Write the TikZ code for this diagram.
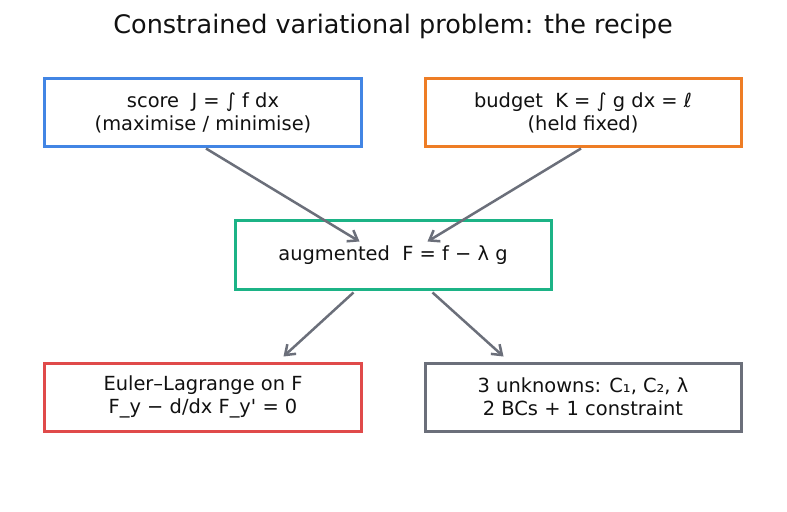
\documentclass[tikz,border=0pt]{standalone}
\usepackage{fontspec}
\setmainfont{DejaVu Sans}
\newfontfamily\dvs{DejaVu Sans}
\usetikzlibrary{arrows.meta,calc}
\definecolor{cblue}{HTML}{4285E4}
\definecolor{corange}{HTML}{EE7D25}
\definecolor{cgreen}{HTML}{1CB386}
\definecolor{cred}{HTML}{E04A4A}
\definecolor{cgray}{HTML}{6B6F7A}
\definecolor{ctext}{HTML}{111111}
\begin{document}
\begin{tikzpicture}[x=1bp,y=-1bp,
  box/.style={draw,line width=3bp,minimum width=316bp,minimum height=68bp,
    align=center,inner sep=0pt,text=ctext,font=\dvs\fontsize{19.5}{23.5}\selectfont},
  arr/.style={draw=cgray,line width=2.5bp,-{Straight Barb[length=9bp,width=13bp,line width=2.5bp]}}]
\useasboundingbox[fill=white] (0,0) rectangle (787,512);
\node[text=ctext,font=\dvs\fontsize{25.6}{30}\selectfont] (title) at (393,26) {Constrained variational problem: the recipe};
\node[box,draw=cblue] (tl) at (203,113) {score\ \ J = ∫ f dx\\(maximise / minimise)};
\node[box,draw=corange] (tr) at (583,113) {budget\ \ K = ∫ g dx = ℓ\\(held fixed)};
\node[box,draw=cgreen] (mid) at (393,255) {augmented\ \ F = f − λ g};
\node[box,draw=cred] (bl) at (203,397) {Euler–Lagrange on F\\F\_y − d/dx F\_y' = 0};
\node[box,draw=cgray] (br) at (583,397) {3 unknowns: C₁, C₂, λ\\2 BCs + 1 constraint};
\draw[arr] ($(tl.south)+(3,0)$) -- ($(mid.north west)+(126,22)$);
\draw[arr] ($(tr.south)+(-2,0)$) -- ($(mid.north west)+(194,22)$);
\draw[arr] ($(mid.south west)+(120,2)$) -- ($(bl.north west)+(240,-5)$);
\draw[arr] ($(mid.south west)+(199,2)$) -- ($(br.north west)+(80,-5)$);
\end{tikzpicture}
\end{document}
